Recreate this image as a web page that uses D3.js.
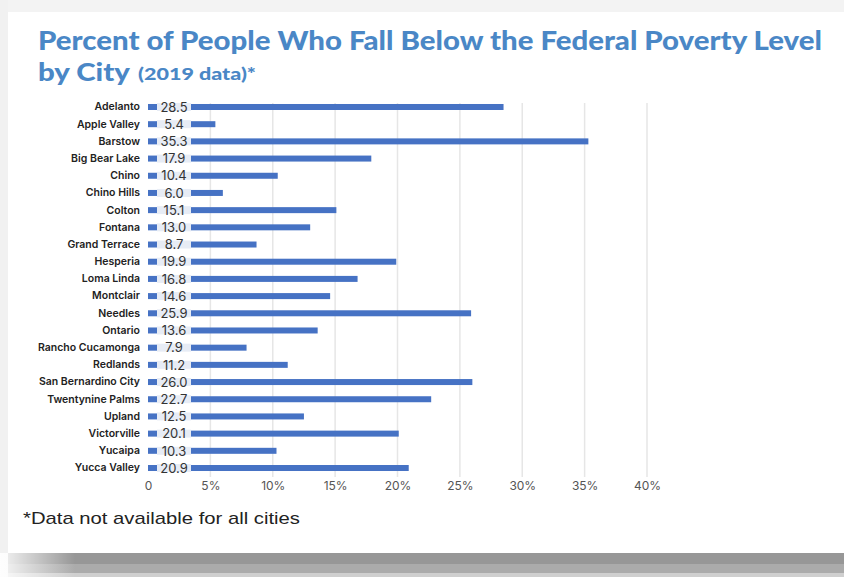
<!DOCTYPE html>
<html>
<head>
<meta charset="utf-8">
<script src="https://cdn.jsdelivr.net/npm/d3@7"></script>
<style>
  html, body { margin: 0; padding: 0; background: #fff; }
  svg { display: block; }
</style>
</head>
<body>
<svg id="chart" width="844" height="577"></svg>
<script>
// Poverty rate by city, 2019
const cities = [
  "Adelanto", "Apple Valley", "Barstow", "Big Bear Lake", "Chino", "Chino Hills",
  "Colton", "Fontana", "Grand Terrace", "Hesperia", "Loma Linda", "Montclair",
  "Needles", "Ontario", "Rancho Cucamonga", "Redlands", "San Bernardino City",
  "Twentynine Palms", "Upland", "Victorville", "Yucaipa", "Yucca Valley"
];
const povertyPct = [
  28.5, 5.4, 35.3, 17.9, 10.4, 6.0, 15.1, 13.0, 8.7, 19.9, 16.8, 14.6,
  25.9, 13.6, 7.9, 11.2, 26.0, 22.7, 12.5, 20.1, 10.3, 20.9
];
const tickValues = [0, 5, 10, 15, 20, 25, 30, 35, 40];
const tickLabels = ["0", "5%", "10%", "15%", "20%", "25%", "30%", "35%", "40%"];

const svg = d3.select("#chart");
const W = 844, H = 577;

// page frame: grey strips along top and left, shaded band at the bottom
svg.append("rect").attr("x", 0).attr("y", 0).attr("width", W).attr("height", H).attr("fill", "#ffffff");
svg.append("rect").attr("x", 0).attr("y", 0).attr("width", W).attr("height", 12).attr("fill", "#f3f3f3");
svg.append("rect").attr("x", 0).attr("y", 0).attr("width", 8).attr("height", H).attr("fill", "#f1f1f1");

const defs = svg.append("defs");
const fade = defs.append("linearGradient").attr("id", "fade").attr("x1", 0).attr("x2", 1);
fade.append("stop").attr("offset", 0).attr("stop-color", "#fff").attr("stop-opacity", 0.9);
fade.append("stop").attr("offset", 1).attr("stop-color", "#fff").attr("stop-opacity", 0);
svg.append("rect").attr("x", 8).attr("y", 553).attr("width", W - 8).attr("height", 11).attr("fill", "#979797");
svg.append("rect").attr("x", 8).attr("y", 564).attr("width", W - 8).attr("height", 9).attr("fill", "#ababab");
svg.append("rect").attr("x", 8).attr("y", 573).attr("width", W - 8).attr("height", 4).attr("fill", "#cfcfcf");
svg.append("rect").attr("x", 0).attr("y", 553).attr("width", 75).attr("height", 24).attr("fill", "url(#fade)");

// title
const title = svg.append("g").attr("fill", "#4a87c6")
  .style("font-family", "Lato, 'Open Sans', sans-serif").style("font-weight", 900);
title.append("text").attr("x", 38).attr("y", 50)
  .attr("font-size", 26).attr("textLength", 784).attr("lengthAdjust", "spacingAndGlyphs")
  .text("Percent of People Who Fall Below the Federal Poverty Level");
const line2 = title.append("text").attr("x", 38).attr("y", 81).attr("font-size", 25);
line2.append("tspan").attr("textLength", 92).attr("lengthAdjust", "spacingAndGlyphs").text("by City");
line2.append("tspan").attr("dx", 8).attr("font-size", 17.5).attr("dy", -1)
  .attr("textLength", 118).attr("lengthAdjust", "spacingAndGlyphs").text("(2019 data)*");

// scales
const x = d3.scaleLinear().domain([0, 40]).range([148, 647]);
const y = d3.scaleBand().domain(cities).range([98.4, 476.6]).paddingInner(0).paddingOuter(0);

// vertical gridlines
svg.append("g").selectAll("line")
  .data(tickValues.filter(v => v > 0))
  .join("line")
  .attr("x1", d => x(d)).attr("x2", d => x(d))
  .attr("y1", 103).attr("y2", 477)
  .attr("stroke", "#e6e6e6").attr("stroke-width", 1.5);

// x axis
const xAxis = d3.axisBottom(x).tickValues(tickValues)
  .tickFormat((d, i) => tickLabels[i]).tickSize(0).tickPadding(0);
const gx = svg.append("g").attr("transform", "translate(0,481)").call(xAxis);
gx.select(".domain").remove();
gx.selectAll("text").attr("fill", "#555").attr("font-size", 12)
  .attr("dy", "0.71em")
  .style("font-family", "Inter, 'Liberation Sans', sans-serif");

// category labels
const gy = svg.append("g").attr("transform", "translate(140,0)")
  .call(d3.axisLeft(y).tickSize(0).tickPadding(0));
gy.select(".domain").remove();
gy.selectAll("text").attr("fill", "#222").attr("font-size", 10.5)
  .style("font-weight", 600)
  .style("font-family", "Inter, 'Liberation Sans', sans-serif");

// bars
const barH = 6;
const rows = svg.append("g").selectAll("g")
  .data(cities.map((c, i) => ({ city: c, v: povertyPct[i] })))
  .join("g")
  .attr("transform", d => `translate(0,${y(d.city) + y.bandwidth() / 2})`);

rows.append("rect")
  .attr("x", x(0)).attr("y", -barH / 2)
  .attr("width", d => x(d.v) - x(0)).attr("height", barH)
  .attr("fill", "#4672c4");

// value label chips sitting on the bars
rows.append("rect")
  .attr("x", x(0) + 9).attr("y", -barH / 2 - 1)
  .attr("width", 34).attr("height", barH + 2)
  .attr("fill", "#e7ecf5");
rows.append("text")
  .attr("x", x(0) + 26).attr("y", 0).attr("dy", "0.36em")
  .attr("text-anchor", "middle")
  .attr("font-size", 13).attr("fill", "#333")
  .style("font-family", "Inter, 'Liberation Sans', sans-serif")
  .text(d => d.v.toFixed(1));

// footnote
svg.append("text").attr("x", 23).attr("y", 524)
  .attr("font-size", 17).attr("fill", "#222")
  .attr("textLength", 277).attr("lengthAdjust", "spacingAndGlyphs")
  .style("font-family", "'Liberation Sans Narrow', 'Liberation Sans', sans-serif")
  .text("*Data not available for all cities");
</script>
</body>
</html>
